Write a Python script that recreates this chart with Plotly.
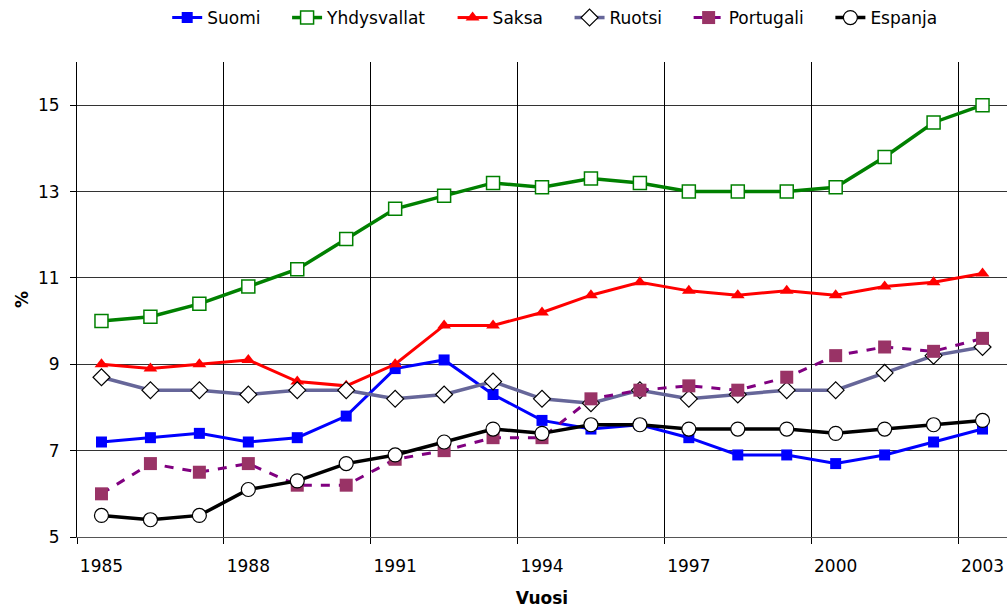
import plotly.graph_objects as go

years = list(range(1985, 2004))
suomi = [7.2, 7.3, 7.4, 7.2, 7.3, 7.8, 8.9, 9.1, 8.3, 7.7, 7.5, 7.6, 7.3, 6.9, 6.9, 6.7, 6.9, 7.2, 7.5]
yhdysvallat = [10.0, 10.1, 10.4, 10.8, 11.2, 11.9, 12.6, 12.9, 13.2, 13.1, 13.3, 13.2, 13.0, 13.0, 13.0, 13.1, 13.8, 14.6, 15.0]
saksa = [9.0, 8.9, 9.0, 9.1, 8.6, 8.5, 9.0, 9.9, 9.9, 10.2, 10.6, 10.9, 10.7, 10.6, 10.7, 10.6, 10.8, 10.9, 11.1]
ruotsi = [8.7, 8.4, 8.4, 8.3, 8.4, 8.4, 8.2, 8.3, 8.6, 8.2, 8.1, 8.4, 8.2, 8.3, 8.4, 8.4, 8.8, 9.2, 9.4]
portugali = [6.0, 6.7, 6.5, 6.7, 6.2, 6.2, 6.8, 7.0, 7.3, 7.3, 8.2, 8.4, 8.5, 8.4, 8.7, 9.2, 9.4, 9.3, 9.6]
espanja = [5.5, 5.4, 5.5, 6.1, 6.3, 6.7, 6.9, 7.2, 7.5, 7.4, 7.6, 7.6, 7.5, 7.5, 7.5, 7.4, 7.5, 7.6, 7.7]

label_years = [1985, 1988, 1991, 1994, 1997, 2000, 2003]
boundary_years = [1984.5, 1987.5, 1990.5, 1993.5, 1996.5, 1999.5, 2002.5]

FONT = "DejaVu Sans"
PAD = "\u00a0" * 4

fig = go.Figure()
fig.add_trace(go.Scatter(x=years, y=suomi, name="Suomi" + PAD, mode="lines+markers",
                         line=dict(color="#0000FF", width=3),
                         marker=dict(symbol="square", size=11, color="#0000FF")))
fig.add_trace(go.Scatter(x=years, y=yhdysvallat, name="Yhdysvallat" + PAD, mode="lines+markers",
                         line=dict(color="#008000", width=3.5),
                         marker=dict(symbol="square", size=13, color="white",
                                     line=dict(color="#008000", width=1.5))))
fig.add_trace(go.Scatter(x=years, y=saksa, name="Saksa" + PAD, mode="lines+markers",
                         line=dict(color="#FF0000", width=3),
                         marker=dict(symbol="triangle-up", size=12, color="#FF0000")))
fig.add_trace(go.Scatter(x=years, y=ruotsi, name="Ruotsi" + PAD, mode="lines+markers",
                         line=dict(color="#666699", width=3.5),
                         marker=dict(symbol="diamond", size=13, color="white",
                                     line=dict(color="black", width=1.2))))
fig.add_trace(go.Scatter(x=years, y=portugali, name="Portugali" + PAD, mode="lines+markers",
                         line=dict(color="#800080", width=3, dash="dash"),
                         marker=dict(symbol="square", size=13, color="#993366")))
fig.add_trace(go.Scatter(x=years, y=espanja, name="Espanja", mode="lines+markers",
                         line=dict(color="#000000", width=3.5),
                         marker=dict(symbol="circle", size=14, color="white",
                                     line=dict(color="black", width=1.2))))

# boundary axis for vertical gridlines and tick marks
fig.add_trace(go.Scatter(x=[1984.5], y=[5], xaxis="x2", showlegend=False,
                         mode="markers", marker=dict(opacity=0), hoverinfo="skip"))

fig.update_layout(
    width=1007, height=608,
    margin=dict(l=77, r=0, t=62, b=71, autoexpand=False),
    paper_bgcolor="white", plot_bgcolor="white",
    font=dict(family=FONT, size=17, color="black"),
    showlegend=True,
    legend=dict(orientation="h", x=0.097, xanchor="left", yref="container", y=1.0,
                yanchor="top", font=dict(family=FONT, size=17),
                tracegroupgap=0, bgcolor="rgba(0,0,0,0)"),
    xaxis=dict(range=[1984.5, 2003.5], tickvals=label_years,
               ticktext=[str(v) for v in label_years], showgrid=False, ticks="",
               ticklabelstandoff=14, automargin=False,
               showline=True, linecolor="#555555", linewidth=1, zeroline=False,
               title=dict(text="<b>Vuosi</b>", font=dict(family=FONT, size=17), standoff=19),
               tickfont=dict(family=FONT, size=17)),
    xaxis2=dict(range=[1984.5, 2003.5], overlaying="x", side="bottom",
                tickvals=boundary_years, showticklabels=False, showgrid=True,
                gridcolor="black", gridwidth=1, ticks="outside", ticklen=6,
                tickcolor="black", showline=False, zeroline=False, automargin=False),
    yaxis=dict(range=[5, 16], tickvals=[5, 7, 9, 11, 13, 15], showgrid=True,
               gridcolor="#333333", gridwidth=1, ticks="outside", ticklen=6,
               tickcolor="black", showline=True, linecolor="black", linewidth=1,
               zeroline=False, tickfont=dict(family=FONT, size=17),
               ticklabelstandoff=7, automargin=False,
               title=dict(text="<b>%</b>", font=dict(family=FONT, size=17), standoff=5)),
    yaxis2=dict(range=[5, 16], overlaying="y", side="right", tickvals=[16],
                showticklabels=False, showgrid=True, gridcolor="#A0A0A0",
                ticks="", showline=False, zeroline=False, automargin=False),
)

fig.write_html("out.html", config={"displayModeBar": False},
               post_script="document.body.style.margin='0px';")
